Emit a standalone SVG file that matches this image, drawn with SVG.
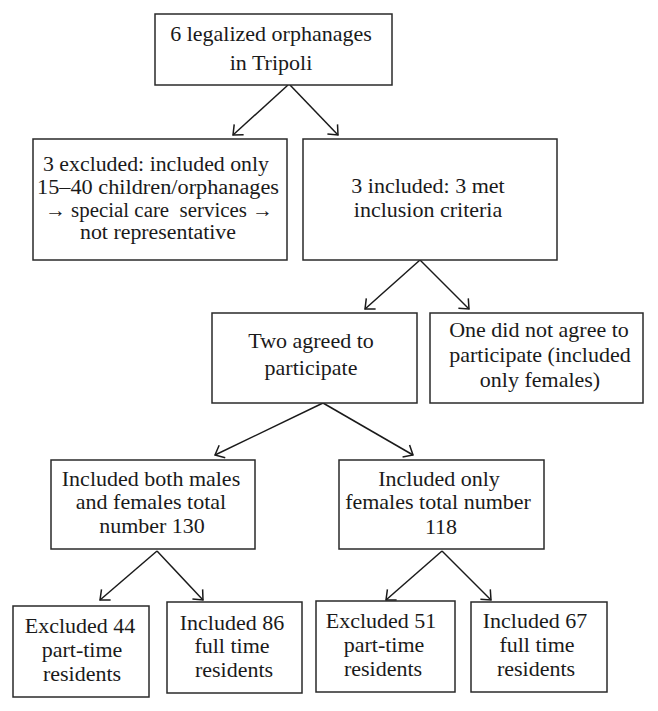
<svg xmlns="http://www.w3.org/2000/svg" width="658" height="711" viewBox="0 0 658 711">
<style>
  .box { fill: #ffffff; stroke: #2a2a2a; stroke-width: 1.5; }
  .t { font-family: "Liberation Serif", "Times New Roman", serif; font-size: 22px; fill: #1a1a1a; text-anchor: middle; }
  .s { font-size: 20px; }
  .c { stroke: #1a1a1a; stroke-width: 1.5; fill: none; marker-end: url(#ah); }
</style>
<defs>
  <marker id="ah" viewBox="0 0 10 16" refX="9" refY="8" markerWidth="10" markerHeight="16" markerUnits="userSpaceOnUse" orient="auto">
    <path d="M1,1 L9,8 L1,15" fill="none" stroke="#1a1a1a" stroke-width="1.5"/>
  </marker>
</defs>
<rect width="658" height="711" fill="#ffffff"/>

<g id="connectors">
  <line class="c" x1="288" y1="85" x2="233" y2="135"/>
  <line class="c" x1="290" y1="85" x2="338" y2="135"/>
  <line class="c" x1="420" y1="260" x2="365" y2="309"/>
  <line class="c" x1="420" y1="260" x2="469" y2="309"/>
  <line class="c" x1="323" y1="403" x2="215" y2="455"/>
  <line class="c" x1="323" y1="403" x2="413" y2="455"/>
  <line class="c" x1="157" y1="551" x2="100" y2="600"/>
  <line class="c" x1="157" y1="551" x2="203" y2="600"/>
  <line class="c" x1="442" y1="551" x2="386" y2="600"/>
  <line class="c" x1="442" y1="551" x2="491" y2="600"/>
</g>

<g id="n-top">
  <rect class="box" x="155" y="14" width="237" height="71"/>
  <text class="t" x="271" y="40.5">6 legalized orphanages</text>
  <text class="t" x="271" y="69.5">in Tripoli</text>
</g>

<g id="n-excluded3">
  <rect class="box" x="33" y="139" width="254" height="121"/>
  <text class="t s" x="156" y="170.5" textLength="226" lengthAdjust="spacingAndGlyphs">3 excluded: included only</text>
  <text class="t s" x="158" y="193.5" textLength="242" lengthAdjust="spacingAndGlyphs">15–40 children/orphanages</text>
  <text class="t s" x="159" y="216.5" textLength="228" lengthAdjust="spacingAndGlyphs" xml:space="preserve">→ special care  services →</text>
  <text class="t s" x="158" y="239" textLength="156" lengthAdjust="spacingAndGlyphs">not representative</text>
</g>

<g id="n-included3">
  <rect class="box" x="303" y="139" width="254" height="121"/>
  <text class="t" x="428" y="193">3 included: 3 met</text>
  <text class="t" x="428" y="217">inclusion criteria</text>
</g>

<g id="n-two-agreed">
  <rect class="box" x="212" y="313" width="205" height="90"/>
  <text class="t" x="311" y="348">Two agreed to</text>
  <text class="t" x="311" y="375">participate</text>
</g>

<g id="n-one-not">
  <rect class="box" x="430" y="313" width="213" height="90"/>
  <text class="t" x="539" y="337">One did not agree to</text>
  <text class="t" x="540" y="362">participate (included</text>
  <text class="t" x="540" y="387">only females)</text>
</g>

<g id="n-both">
  <rect class="box" x="51" y="460" width="204" height="89"/>
  <text class="t" x="151" y="486">Included both males</text>
  <text class="t" x="151" y="509">and females total</text>
  <text class="t" x="152" y="533">number 130</text>
</g>

<g id="n-females">
  <rect class="box" x="339" y="460" width="205" height="89"/>
  <text class="t" x="439" y="486">Included only</text>
  <text class="t" x="438" y="509">females total number</text>
  <text class="t" x="441" y="534">118</text>
</g>

<g id="n-ex44">
  <rect class="box" x="13" y="606" width="136" height="91"/>
  <text class="t" x="80" y="633">Excluded 44</text>
  <text class="t" x="82" y="657">part-time</text>
  <text class="t" x="82" y="681">residents</text>
</g>

<g id="n-in86">
  <rect class="box" x="167" y="602" width="135" height="91"/>
  <text class="t" x="232" y="630">Included 86</text>
  <text class="t" x="232" y="653">full time</text>
  <text class="t" x="234" y="677">residents</text>
</g>

<g id="n-ex51">
  <rect class="box" x="316" y="601" width="139" height="91"/>
  <text class="t" x="381" y="628">Excluded 51</text>
  <text class="t" x="384" y="652">part-time</text>
  <text class="t" x="383" y="676">residents</text>
</g>

<g id="n-in67">
  <rect class="box" x="471" y="602" width="136" height="90"/>
  <text class="t" x="535" y="628">Included 67</text>
  <text class="t" x="537" y="652">full time</text>
  <text class="t" x="536" y="676">residents</text>
</g>
</svg>
